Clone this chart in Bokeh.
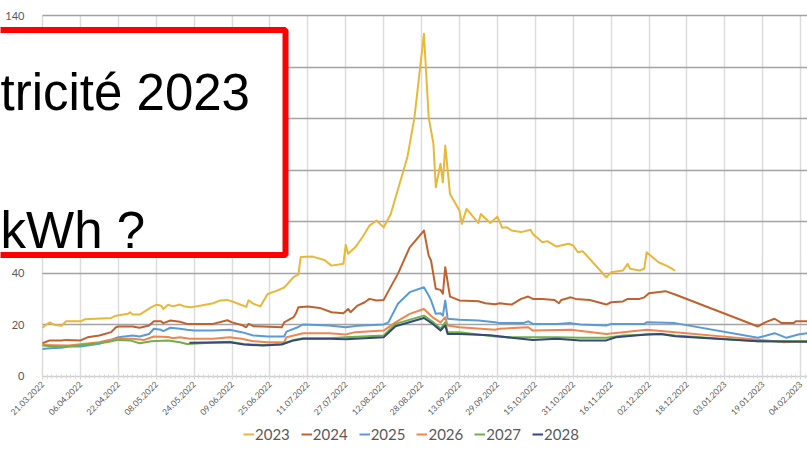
import pandas as pd
from math import pi
from bokeh.plotting import figure
from bokeh.models import (FixedTicker, Legend, LegendItem, BoxAnnotation, Label, Range1d)
from bokeh.embed import file_html
from bokeh.resources import INLINE

# ---------------- data ----------------
start_date = "21.03.2022"
tick_labels = ["21.03.2022", "06.04.2022", "22.04.2022", "08.05.2022", "24.05.2022",
               "09.06.2022", "25.06.2022", "11.07.2022", "27.07.2022", "12.08.2022",
               "28.08.2022", "13.09.2022", "29.09.2022", "15.10.2022", "31.10.2022",
               "16.11.2022", "02.12.2022", "18.12.2022", "03.01.2023", "19.01.2023",
               "04.02.2023"]
y_ticks = [0, 20, 40, 60, 80, 100, 120, 140]
series_names = ["2023", "2024", "2025", "2026", "2027", "2028"]

# days since start_date, and price values
days_2023 = [0, 1, 3, 5, 8, 10, 16, 18, 29, 31,
             36, 37, 38, 41, 46, 48, 50, 51, 53, 55,
             58, 60, 63, 67, 72, 75, 78, 81, 86, 87,
             89, 92, 95, 99, 102, 103, 106, 108, 109, 114,
             119, 122, 127, 128, 129, 132, 135, 138, 141, 144,
             147, 154, 157, 161, 163, 165, 166, 168, 169, 170,
             172, 176, 177, 179, 184, 185, 189, 192, 194, 196,
             198, 202, 206, 207, 211, 213, 217, 222, 224, 226,
             228, 238, 240, 245, 247, 248, 252, 254, 255, 260,
             264, 267]
vals_2023 = [18.9, 19.7, 21.0, 20.0, 19.7, 21.4, 21.4, 22.2, 22.7, 23.6,
             24.3, 24.9, 24.0, 24.0, 26.9, 27.8, 27.5, 26.2, 27.8, 27.2,
             27.9, 27.1, 26.9, 27.5, 28.4, 29.5, 29.7, 28.8, 27.0, 29.6,
             28.2, 27.2, 32.0, 33.3, 34.5, 35.5, 38.6, 39.5, 46.3, 46.5,
             45.2, 43.0, 43.7, 51.0, 47.6, 50.1, 54.0, 58.5, 60.5, 57.9,
             63.0, 85.0, 100.5, 132.9, 100.5, 90.2, 73.4, 82.5, 75.3, 89.6,
             70.8, 64.4, 59.2, 65.0, 59.5, 63.0, 59.5, 62.0, 57.7, 57.9,
             56.6, 56.0, 56.9, 55.3, 52.1, 52.5, 50.4, 51.5, 50.8, 48.2,
             48.6, 38.5, 40.4, 41.1, 43.7, 41.8, 41.1, 41.8, 48.2, 44.3,
             42.7, 41.1]

days_2024 = [0, 3, 8, 10, 16, 19, 24, 29, 31, 32,
             38, 41, 45, 47, 50, 51, 54, 58, 61, 72,
             78, 80, 84, 86, 87, 89, 93, 101, 102, 106,
             107, 108, 112, 117, 122, 127, 129, 130, 133, 136,
             138, 141, 144, 146, 150, 155, 161, 163, 164, 166,
             168, 169, 170, 172, 176, 184, 187, 191, 193, 198,
             202, 205, 207, 211, 216, 218, 219, 223, 225, 231,
             238, 240, 245, 247, 252, 254, 256, 263, 267, 302,
             305, 309, 312, 317, 318, 323]
vals_2024 = [12.9, 14.0, 14.0, 14.2, 14.0, 15.2, 15.9, 17.2, 19.1, 19.4,
             19.4, 18.9, 19.8, 21.4, 21.4, 20.7, 21.7, 21.2, 20.4, 20.4,
             21.8, 21.0, 20.0, 19.1, 20.4, 19.5, 19.4, 19.1, 21.0, 23.0,
             24.5, 26.9, 27.1, 26.6, 24.9, 24.5, 26.2, 24.9, 27.5, 28.8,
             30.1, 29.5, 29.7, 33.1, 39.8, 50.1, 56.6, 46.9, 45.0, 34.0,
             33.6, 32.1, 42.4, 31.0, 29.5, 29.2, 28.4, 28.0, 28.4, 27.9,
             30.1, 31.0, 30.1, 30.1, 29.7, 28.4, 29.7, 30.7, 30.1, 29.7,
             27.9, 28.8, 29.1, 30.1, 30.1, 30.7, 32.3, 33.1, 31.8, 19.4,
             21.0, 22.4, 20.7, 20.7, 21.4, 21.4]

days_2025 = [0, 3, 8, 11, 16, 19, 24, 30, 32, 38,
             41, 45, 47, 50, 51, 54, 58, 61, 64, 72,
             79, 84, 89, 95, 102, 103, 108, 110, 121, 128,
             133, 144, 146, 150, 155, 161, 163, 164, 166, 168,
             169, 170, 171, 176, 184, 191, 193, 203, 205, 207,
             217, 223, 227, 238, 240, 254, 255, 267, 302, 309,
             314, 319, 323]
vals_2025 = [10.7, 11.0, 11.1, 11.6, 11.6, 12.0, 12.7, 14.6, 15.2, 15.9,
             15.5, 16.5, 18.5, 18.1, 17.6, 18.9, 18.5, 18.1, 17.8, 17.8,
             18.1, 17.2, 15.9, 15.5, 15.5, 17.4, 19.2, 20.2, 19.8, 19.1,
             19.7, 20.2, 21.0, 28.2, 32.7, 34.6, 31.4, 29.5, 24.3, 24.5,
             23.6, 29.5, 22.4, 22.0, 21.7, 21.0, 20.7, 20.7, 21.4, 20.4,
             20.4, 20.7, 20.2, 19.8, 20.4, 20.4, 21.0, 20.7, 15.0, 16.8,
             15.0, 16.3, 16.8]

days_2026 = [0, 11, 15, 24, 27, 32, 38, 43, 47, 53,
             55, 58, 62, 72, 79, 84, 89, 95, 102, 103,
             110, 121, 128, 132, 144, 149, 155, 161, 165, 168,
             170, 171, 176, 191, 193, 205, 207, 223, 238, 245,
             255, 267, 302, 313, 323]
vals_2026 = [12.2, 12.0, 12.4, 13.3, 14.0, 14.6, 14.6, 14.2, 15.5, 15.3,
             14.8, 15.2, 14.6, 14.6, 15.2, 14.6, 13.7, 13.3, 13.4, 15.2,
             16.8, 16.8, 16.3, 17.2, 17.8, 21.0, 24.3, 26.2, 22.7, 21.0,
             23.0, 19.8, 19.1, 18.1, 18.5, 19.1, 17.8, 18.1, 16.5, 17.2,
             18.1, 17.2, 14.3, 13.3, 13.7]

days_2027 = [0, 8, 15, 27, 32, 37, 41, 46, 53, 58,
             61, 67, 79, 85, 93, 101, 106, 110, 121, 128,
             144, 149, 161, 165, 168, 170, 171, 176, 191, 198,
             217, 227, 238, 245, 261, 267, 302, 323]
vals_2027 = [12.0, 11.4, 12.0, 13.3, 14.2, 14.0, 12.9, 13.7, 14.0, 13.3,
             12.6, 12.9, 13.5, 12.6, 12.2, 12.6, 14.2, 14.8, 14.8, 15.2,
             15.9, 20.4, 23.6, 21.0, 18.5, 21.0, 17.2, 17.2, 15.5, 15.2,
             15.2, 15.0, 15.0, 15.9, 16.5, 15.9, 13.7, 13.7]

days_2028 = [62, 79, 85, 93, 101, 106, 110, 121, 128, 144,
             149, 161, 165, 168, 170, 171, 176, 189, 198, 207,
             217, 227, 238, 242, 255, 261, 267, 302, 323]
vals_2028 = [13.1, 13.3, 12.4, 12.0, 12.4, 14.0, 14.6, 14.6, 14.4, 15.2,
             19.5, 22.7, 20.2, 17.8, 19.8, 16.5, 16.5, 16.0, 15.0, 14.2,
             14.6, 14.0, 14.0, 15.2, 16.3, 16.5, 15.6, 13.7, 13.5]

series_days = [days_2023, days_2024, days_2025, days_2026, days_2027, days_2028]
series_vals = [vals_2023, vals_2024, vals_2025, vals_2026, vals_2027, vals_2028]
colors = ["#E9B83A", "#C0622F", "#5B9BD5", "#EE8650", "#6FB04A", "#34497A"]

# ---------------- figure ----------------
t0 = pd.to_datetime(start_date, format="%d.%m.%Y")
tick_pos = [int((pd.to_datetime(s, format="%d.%m.%Y") - t0).days) for s in tick_labels]
x_end = 322.9
y_top = 140

# the plotting frame covers the whole canvas; axes are pinned at day 0 / value 0
p = figure(width=807, height=469, output_backend="svg", toolbar_location=None,
           x_range=Range1d(-17.73, x_end), y_range=Range1d(-36.07, 145.82),
           min_border_left=0, min_border_right=0, min_border_top=0, min_border_bottom=0)
p.outline_line_color = None
p.background_fill_color = "white"
p.border_fill_color = "white"

renderers = []
for d, v, c in zip(series_days, series_vals, colors):
    r = p.line(d, v, line_color=c, line_width=2, line_join="round")
    renderers.append(r)

# x axis
p.xaxis.fixed_location = 0
p.xaxis.ticker = FixedTicker(ticks=tick_pos, minor_ticks=list(range(0, 324, 2)))
p.xaxis.bounds = (0, x_end)
p.xaxis.major_label_overrides = {t: s for t, s in zip(tick_pos, tick_labels)}
p.xaxis.major_label_orientation = pi / 4
p.xaxis.major_label_text_font = "Lato"
p.xaxis.major_label_text_font_size = "8.5px"
p.xaxis.major_label_text_color = "#595959"
p.xaxis.major_label_standoff = 3
p.xaxis.axis_line_color = "#D0D0D0"
p.xaxis.axis_line_width = 1.5
p.xaxis.major_tick_line_color = "#D0D0D0"
p.xaxis.major_tick_in = 0
p.xaxis.major_tick_out = 3
p.xaxis.minor_tick_line_color = "#D9D9D9"
p.xaxis.minor_tick_in = 2
p.xaxis.minor_tick_out = 2

# y axis pinned at the first date
p.yaxis.fixed_location = 0
p.yaxis.ticker = FixedTicker(ticks=y_ticks)
p.yaxis.bounds = (0, y_top)
p.yaxis.axis_line_color = None
p.yaxis.major_tick_line_color = None
p.yaxis.minor_tick_line_color = None
p.yaxis.major_label_text_font = "Lato"
p.yaxis.major_label_text_font_size = "11px"
p.yaxis.major_label_text_color = "#595959"
p.yaxis.major_label_standoff = 12

p.ygrid.ticker = FixedTicker(ticks=y_ticks[1:])
p.ygrid.cross_bounds = (0, x_end)
p.ygrid.grid_line_color = "#A3A3A3"
p.ygrid.grid_line_width = 1.5
p.xgrid.cross_bounds = (0, y_top)
p.xgrid.grid_line_color = "#DCDCDC"
p.xgrid.grid_line_width = 1.5

# legend under the axis labels
legend = Legend(items=[LegendItem(label=n, renderers=[r]) for n, r in zip(series_names, renderers)],
                orientation="horizontal", location=(243, 26),
                glyph_width=11, glyph_height=16, label_standoff=1, spacing=11,
                padding=0, margin=0, border_line_color=None, background_fill_alpha=0,
                label_text_font="Lato", label_text_font_size="15px",
                label_text_color="#595959")
p.add_layout(legend)

# red box overlay with text
box = BoxAnnotation(left=-30, right=285, top=439.5, bottom=214.5,
                    left_units="screen", right_units="screen",
                    top_units="screen", bottom_units="screen",
                    fill_color="white", fill_alpha=1.0,
                    line_color="#FF0000", line_alpha=1.0, line_width=6, level="overlay")
p.add_layout(box)
p.add_layout(Label(x=0, y=377, x_units="screen", y_units="screen", text="tricité 2023",
                   text_font="Liberation Sans", text_font_size="51px", text_color="black",
                   text_baseline="alphabetic", level="overlay"))
p.add_layout(Label(x=0, y=239, x_units="screen", y_units="screen", text="kWh ?",
                   text_font="Liberation Sans", text_font_size="51px", text_color="black",
                   text_baseline="alphabetic", level="overlay"))

open("out.html", "w").write(file_html(p, INLINE))
